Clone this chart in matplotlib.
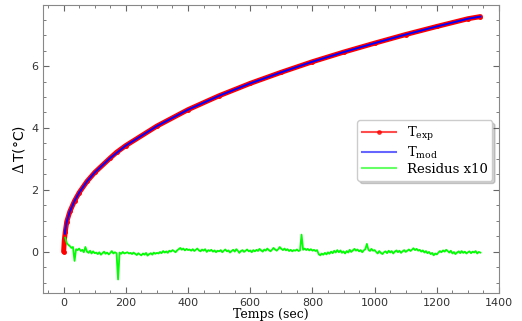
import numpy as np
import matplotlib
matplotlib.use("Agg")
import matplotlib.pyplot as plt
from matplotlib.lines import Line2D
from matplotlib.ticker import MultipleLocator

t_exp = [0, 2, 5, 10, 20, 35, 50, 75, 100, 150, 170, 200, 300, 400, 500,
         600, 700, 800, 900, 1000, 1100, 1200, 1300, 1340]
T_exp = [0.0, 0.35, 0.62, 0.97, 1.30, 1.64, 1.91, 2.27, 2.56, 3.03, 3.21, 3.43,
         4.06, 4.59, 5.04, 5.44, 5.80, 6.14, 6.45, 6.74, 7.02, 7.28, 7.53, 7.60]

# model curve
t_mod = [4, 5, 10, 20, 35, 50, 75, 100, 150, 200, 300, 400, 500,
         600, 700, 800, 900, 1000, 1100, 1200, 1300, 1340]
T_mod = [0.58, 0.68, 0.97, 1.30, 1.64, 1.91, 2.27, 2.56, 3.03, 3.43,
         4.06, 4.59, 5.04, 5.44, 5.80, 6.14, 6.45, 6.74, 7.02, 7.28, 7.53, 7.60]

# residuals x10, one value every 5 s from 5 s to 1340 s
res = [
    0.45, 0.28, 0.22, 0.18, 0.12, 0.15, -0.30, 0.08, 0.05, 0.10, 0.02, 0.06, -0.02, 0.15, 0.00, -0.04, 0.03, -0.06, 0.01, -0.05,
    -0.03, -0.08, -0.02, -0.10, -0.05, 0.00, -0.07, -0.03, -0.09, -0.04, 0.02, -0.06, -0.02, -0.05, -0.90, -0.03, -0.07, -0.01, -0.06, -0.04,
    -0.02, -0.06, -0.04, -0.08, -0.03, -0.07, -0.11, -0.05, -0.09, -0.12, -0.06, -0.10, -0.04, -0.13, -0.08, -0.05, -0.10, -0.03, -0.07, -0.04,
    -0.06, -0.01, -0.05, 0.02, -0.03, 0.01, -0.04, 0.03, 0.00, 0.05, 0.02, -0.02, 0.04, 0.08, 0.12, 0.06, 0.10, 0.04, 0.09, 0.05,
    0.07, 0.03, 0.08, 0.02, 0.06, 0.10, 0.04, 0.01, 0.07, 0.03, 0.08, -0.01, 0.05, 0.02, 0.06, 0.00, 0.04, -0.02, 0.03, 0.01,
    0.05, -0.02, 0.03, 0.07, 0.01, 0.04, -0.03, 0.02, 0.06, 0.00, 0.08, 0.03, -0.04, 0.02, 0.05, -0.01, 0.03, 0.07, 0.01, 0.04,
    -0.02, 0.05, 0.01, 0.06, 0.02, 0.09, 0.04, 0.00, 0.07, 0.03, 0.10, 0.05, 0.01, 0.06, 0.12, 0.07, 0.03, 0.08, 0.15, 0.09,
    0.05, 0.10, 0.04, 0.08, 0.02, 0.06, 0.01, 0.05, 0.03, 0.07, 0.02, 0.04, 0.55, 0.06, 0.10, 0.05, 0.09, 0.04, 0.08, 0.03,
    0.06, 0.02, 0.05, -0.08, -0.12, -0.06, -0.10, -0.04, -0.09, -0.02, -0.07, 0.00, -0.05, 0.03, -0.03, 0.05, -0.02, 0.04, -0.04, 0.01,
    -0.06, 0.02, -0.03, 0.06, -0.01, 0.04, 0.09, 0.03, 0.07, 0.01, 0.05, -0.02, 0.04, 0.08, 0.25, 0.06, 0.02, 0.09, 0.03, 0.05,
    -0.01, -0.06, 0.02, -0.04, -0.08, -0.02, 0.01, -0.05, 0.03, -0.03, 0.02, -0.06, 0.00, 0.04, -0.02, 0.03, -0.04, 0.01, 0.05, -0.01,
    0.03, 0.07, 0.02, 0.06, 0.11, 0.05, 0.09, 0.03, 0.06, 0.00, 0.04, -0.03, 0.02, -0.05, -0.01, -0.08, -0.04, -0.12, -0.06, -0.09,
    -0.03, 0.02, -0.02, 0.04, 0.00, 0.06, 0.02, -0.03, 0.03, -0.06, -0.01, -0.08, -0.03, 0.01, -0.05, 0.02, -0.04, 0.00, -0.06, -0.02,
    0.01, -0.05, 0.00, -0.03, 0.02, -0.06, -0.01, -0.03,
]
t_res = np.arange(5, 1341, 5)

plt.rcParams["mathtext.fontset"] = "dejavuserif"

fig = plt.figure(figsize=(5.22, 3.21), dpi=100)
ax = fig.add_axes([0.082, 0.086, 0.874, 0.898])

ax.plot(t_exp, T_exp, color="red", lw=3.6, marker=".", ms=5, solid_capstyle="round")
ax.plot(t_mod, T_mod, color="blue", lw=1.4)
ax.plot(t_res, res, color="#00ff00", lw=1.3)

ax.set_xlim(-67, 1400)
ax.set_ylim(-1.35, 7.97)
ax.xaxis.set_major_locator(MultipleLocator(200))
ax.xaxis.set_minor_locator(MultipleLocator(50))
ax.yaxis.set_major_locator(MultipleLocator(2))
ax.yaxis.set_minor_locator(MultipleLocator(0.5))
ax.tick_params(which="both", direction="in", top=True, right=True,
               color="#666666", labelsize=8, labelcolor="#333333")
ax.tick_params(which="major", length=4, pad=3)
ax.tick_params(which="minor", length=2)
for s in ax.spines.values():
    s.set_color("#888888")

ax.set_xlabel("Temps (sec)", family="DejaVu Serif", fontsize=9, labelpad=0)
ax.set_ylabel(r"$\Delta\,$T(°C)", fontsize=10, labelpad=3)

handles = [
    Line2D([], [], color="red", lw=1.5, marker=".", ms=5, alpha=0.7),
    Line2D([], [], color="blue", lw=1.5, alpha=0.6),
    Line2D([], [], color="#00ff00", lw=1.5, alpha=0.6),
]
labels = [r"T$_{\rm exp}$", r"T$_{\rm mod}$", "Residus x10"]
ax.legend(handles, labels, loc="upper right", bbox_to_anchor=(0.985, 0.60),
          borderaxespad=0, shadow={"alpha": 0.25}, fancybox=True, framealpha=1,
          prop={"family": "DejaVu Serif", "size": 9.5}, handlelength=2.6,
          labelspacing=0.15, borderpad=0.35)

fig.savefig("out.png", dpi=100)
